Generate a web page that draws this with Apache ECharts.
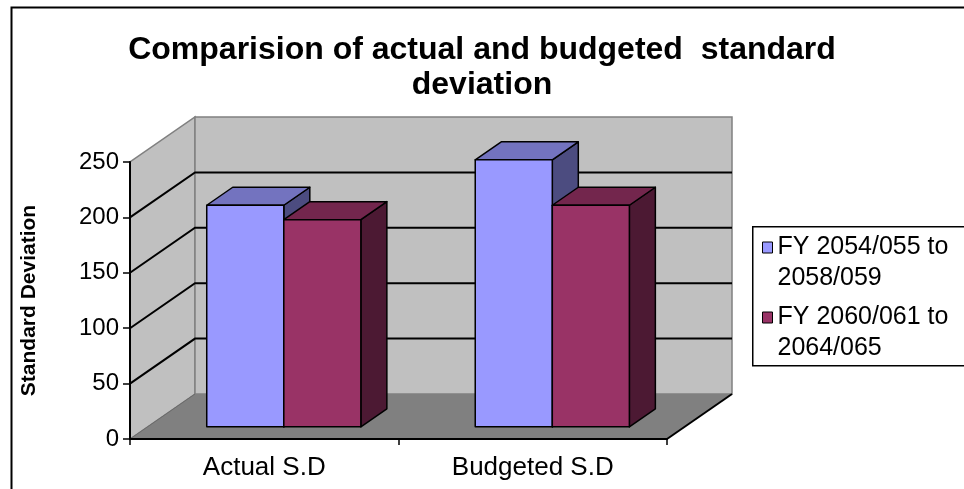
<!DOCTYPE html>
<html>
<head>
<meta charset="utf-8">
<script src="https://cdn.jsdelivr.net/npm/echarts@6/dist/echarts.min.js"></script>
<style>
  html, body { margin: 0; padding: 0; background: #fff; }
  #chart { width: 964px; height: 489px; }
</style>
</head>
<body>
<div id="chart"></div>
<script>
// ---- data ----
const categories = ['Actual S.D', 'Budgeted S.D'];
const seriesNames = ['FY 2054/055 to 2058/059', 'FY 2060/061 to 2064/065'];
const earlyPeriod = [200, 241];   // FY 2054/055 to 2058/059
const latePeriod = [187, 200];    // FY 2060/061 to 2064/065
const yTicks = [0, 50, 100, 150, 200, 250];

// ---- 3D look ----
const DEPTH = [65, -45];          // oblique offset from front plane to back wall
const BAR_FRONT = 0.27;           // depth fraction of a bar's front face
const BAR_BACK = 0.67;            // depth fraction of a bar's back face
const BAR_WIDTH = 0.287;          // bar width as part of a category band
const FONT = 'Liberation Sans, Arial, sans-serif';
const faces = [
  { front: '#9999FF', top: '#7373BF', side: '#4C4C80' },
  { front: '#993366', top: '#73264D', side: '#4C1933' }
];

const chart = echarts.init(document.getElementById('chart'));

// walls, floor and gridlines of the 3D box
function renderBox(params, api) {
  const cs = params.coordSys;
  const x = cs.x, y = cs.y, w = cs.width, h = cs.height;
  const dx = DEPTH[0], dy = DEPTH[1];
  const children = [];
  children.push({
    type: 'polygon',
    shape: { points: [[x, y + h], [x, y], [x + dx, y + dy], [x + dx, y + h + dy]] },
    style: { fill: '#C0C0C0', stroke: '#808080', lineWidth: 1.5 }
  });
  children.push({
    type: 'polygon',
    shape: { points: [[x + dx, y + dy], [x + w + dx, y + dy], [x + w + dx, y + h + dy], [x + dx, y + h + dy]] },
    style: { fill: '#C0C0C0', stroke: '#808080', lineWidth: 1.5 }
  });
  yTicks.forEach(function (v) {
    if (v === yTicks[0] || v === yTicks[yTicks.length - 1]) return;
    const yv = api.coord([0, v])[1];
    children.push({
      type: 'polyline',
      shape: { points: [[x, yv], [x + dx, yv + dy], [x + w + dx, yv + dy]] },
      style: { stroke: '#000', lineWidth: 2, fill: null }
    });
  });
  children.push({
    type: 'polygon',
    shape: { points: [[x, y + h], [x + w, y + h], [x + w + dx, y + h + dy], [x + dx, y + h + dy]] },
    style: { fill: '#808080', stroke: null }
  });
  children.push({
    type: 'line',
    shape: { x1: x, y1: y + h, x2: x + dx, y2: y + h + dy },
    style: { stroke: '#6a6a6a', lineWidth: 1 }
  });
  children.push({
    type: 'line',
    shape: { x1: x + w, y1: y + h, x2: x + w + dx, y2: y + h + dy },
    style: { stroke: '#000', lineWidth: 2 }
  });
  return { type: 'group', children: children };
}

// one 3D bar: front, top and side faces
function makeBarRenderer(s) {
  return function (params, api) {
    const cat = api.value(0);
    const base = api.coord([cat, 0]);
    const tip = api.coord([cat, api.value(1)]);
    const band = api.size([1, 0])[0];
    const bw = band * BAR_WIDTH;
    const fx = BAR_FRONT * DEPTH[0], fy = BAR_FRONT * DEPTH[1];
    const ddx = (BAR_BACK - BAR_FRONT) * DEPTH[0], ddy = (BAR_BACK - BAR_FRONT) * DEPTH[1];
    const x0 = base[0] + fx + 2 + (s === 0 ? -bw : 0);
    const x1 = x0 + bw;
    const yb = base[1] + fy, yt = tip[1] + fy;
    const c = faces[s];
    const st = { stroke: '#000', lineWidth: 1.5, lineJoin: 'round' };
    return {
      type: 'group',
      children: [
        { type: 'polygon', shape: { points: [[x1, yt], [x1 + ddx, yt + ddy], [x1 + ddx, yb + ddy], [x1, yb]] },
          style: Object.assign({ fill: c.side }, st) },
        { type: 'polygon', shape: { points: [[x0, yt], [x1, yt], [x1 + ddx, yt + ddy], [x0 + ddx, yt + ddy]] },
          style: Object.assign({ fill: c.top }, st) },
        { type: 'rect', shape: { x: x0, y: yt, width: bw, height: yb - yt },
          style: Object.assign({ fill: c.front }, st) }
      ]
    };
  };
}

// legend entries wrap after "to"; the leading blank line keeps the swatch level with the first line
const legendBase = {
  orient: 'vertical',
  left: 762,
  padding: 0,
  icon: 'rect',
  itemWidth: 10,
  itemHeight: 11,
  selectedMode: false,
  itemStyle: { borderColor: '#000', borderWidth: 1 },
  formatter: function (name) { return '\n' + name.replace(' to ', ' to\n'); },
  textStyle: { fontFamily: FONT, fontSize: 25, color: '#000', lineHeight: 31 }
};

chart.setOption({
  backgroundColor: '#fff',
  animation: false,
  title: {
    text: 'Comparision of actual and budgeted  standard\ndeviation',
    left: 'center',
    top: 28,
    textStyle: { fontFamily: FONT, fontWeight: 'bold', fontSize: 32, lineHeight: 35, color: '#000' }
  },
  graphic: [
    { type: 'rect', left: 9, top: 5, shape: { width: 1000, height: 520 },
      style: { fill: null, stroke: '#000', lineWidth: 2 }, z: -1 },
    { type: 'rect', left: 752, top: 226, shape: { width: 300, height: 139 },
      style: { fill: '#fff', stroke: '#000', lineWidth: 1.5 }, z: 0 }
  ],
  legend: [
    Object.assign({}, legendBase, { data: [seriesNames[0]], top: 201 }),
    Object.assign({}, legendBase, { data: [seriesNames[1]], top: 271 })
  ],
  grid: { left: 130, top: 162, width: 537, height: 277 },
  xAxis: {
    type: 'category',
    data: categories,
    z: 10,
    axisLine: { lineStyle: { color: '#000', width: 2 } },
    axisTick: { show: true, length: 6, interval: 0, lineStyle: { color: '#000', width: 1.5 } },
    axisLabel: { fontFamily: FONT, fontSize: 26, color: '#000', margin: 16 },
    splitLine: { show: false }
  },
  yAxis: {
    type: 'value',
    min: yTicks[0],
    max: yTicks[yTicks.length - 1],
    interval: yTicks[1] - yTicks[0],
    z: 10,
    name: 'Standard Deviation',
    nameLocation: 'middle',
    nameRotate: 90,
    nameGap: 90,
    nameTextStyle: { fontFamily: FONT, fontWeight: 'bold', fontSize: 21, color: '#000' },
    axisLine: { show: true, lineStyle: { color: '#000', width: 2 } },
    axisTick: { show: true, length: 7, lineStyle: { color: '#000', width: 1.5 } },
    axisLabel: { fontFamily: FONT, fontSize: 24, color: '#000', margin: 11 },
    splitLine: { show: false }
  },
  series: [
    { type: 'custom', name: 'box', data: [[0, 0]], renderItem: renderBox, silent: true, z: 1 },
    { type: 'custom', name: seriesNames[0], data: categories.map((c, i) => [i, earlyPeriod[i]]),
      itemStyle: { color: faces[0].front }, renderItem: makeBarRenderer(0), z: 3 },
    { type: 'custom', name: seriesNames[1], data: categories.map((c, i) => [i, latePeriod[i]]),
      itemStyle: { color: faces[1].front }, renderItem: makeBarRenderer(1), z: 4 }
  ]
});
</script>
</body>
</html>
